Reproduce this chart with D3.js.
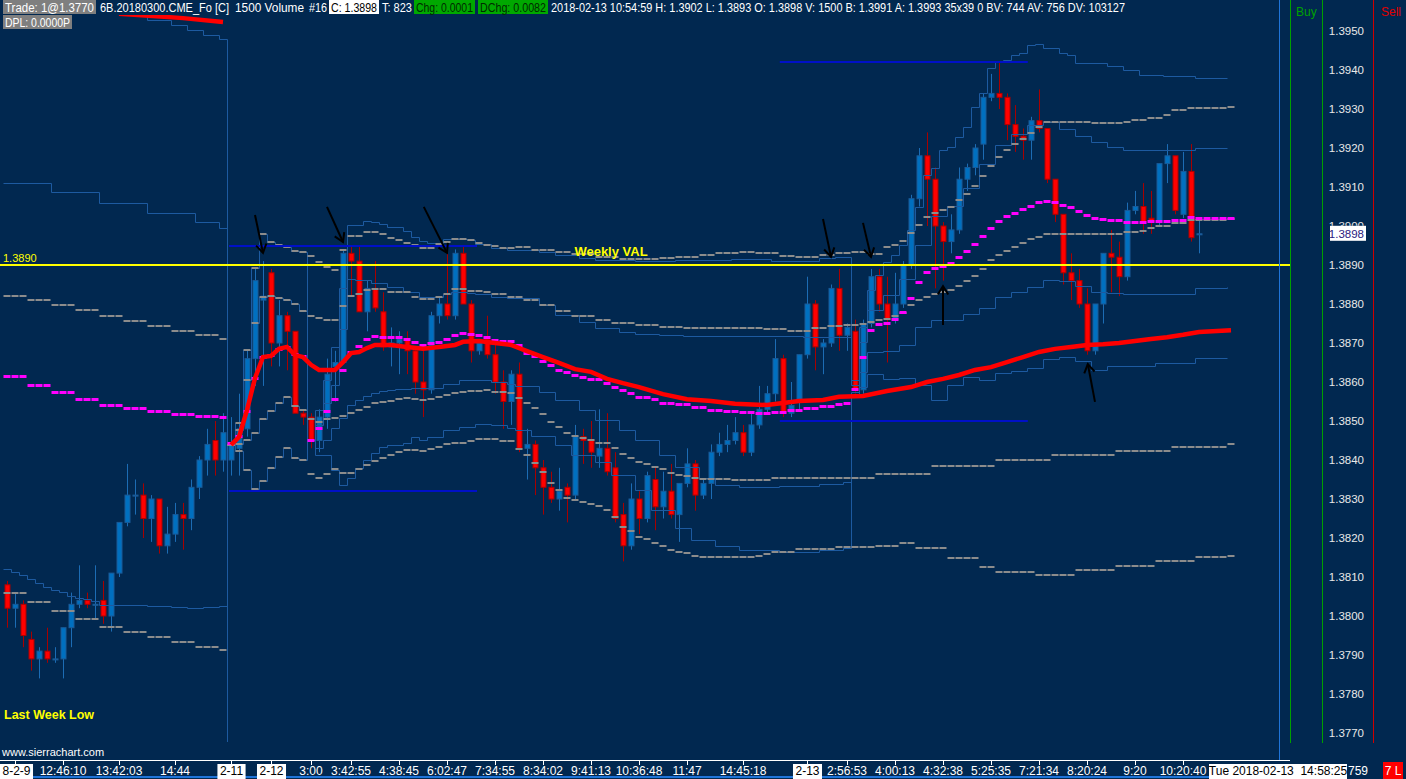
<!DOCTYPE html>
<html>
<head>
<meta charset="utf-8">
<script src="https://cdn.jsdelivr.net/npm/d3@7"></script>
<style>
  html, body { margin: 0; padding: 0; background: #012850; overflow: hidden; }
  svg { display: block; }
  text { font-family: "Liberation Sans", Arial, sans-serif; }
</style>
</head>
<body>
<div id="wrapper"></div>
<script>
// 6B 1500 volume bars, [open, high, low, close]
const ohlc = [
  [1.3808,1.3809,1.3797,1.3802],[1.3802,1.3806,1.3797,1.3803],[1.3803,1.3804,1.3792,1.3795],[1.3794,1.3796,1.3786,1.3789],
  [1.3789,1.3792,1.3784,1.3791],[1.3791,1.3797,1.3788,1.3789],[1.3789,1.3792,1.3788,1.3789],[1.3789,1.3797,1.3784,1.3797],
  [1.3797,1.3806,1.3792,1.3803],[1.3803,1.3813,1.3802,1.3804],[1.3804,1.3806,1.3802,1.3803],[1.3803,1.3813,1.3799,1.3803],
  [1.3804,1.3809,1.3798,1.3800],[1.3800,1.3811,1.3796,1.3811],[1.3811,1.3824,1.3810,1.3824],[1.3824,1.3839,1.3823,1.3831],
  [1.3831,1.3835,1.3826,1.3831],[1.3831,1.3834,1.3820,1.3825],[1.3825,1.3831,1.3819,1.3830],[1.3830,1.3830,1.3816,1.3818],
  [1.3818,1.3828,1.3816,1.3821],[1.3821,1.3829,1.3819,1.3826],[1.3826,1.3829,1.3817,1.3825],[1.3825,1.3835,1.3822,1.3833],
  [1.3833,1.3841,1.3830,1.3840],[1.3840,1.3848,1.3836,1.3844],[1.3845,1.3850,1.3836,1.3840],[1.3840,1.3852,1.3837,1.3847],
  [1.3840,1.3851,1.3836,1.3844],[1.3843,1.3857,1.3836,1.3848],[1.3848,1.3868,1.3846,1.3866],[1.3866,1.3889,1.3859,1.3886],
  [1.3881,1.3891,1.3859,1.3882],[1.3888,1.3889,1.3864,1.3870],[1.3870,1.3881,1.3864,1.3877],[1.3877,1.3878,1.3863,1.3873],
  [1.3873,1.3873,1.3852,1.3852],[1.3852,1.3853,1.3849,1.3851],[1.3851,1.3852,1.3843,1.3845],[1.3845,1.3853,1.3842,1.3851],
  [1.3851,1.3866,1.3848,1.3862],[1.3864,1.3868,1.3855,1.3865],[1.3865,1.3894,1.3865,1.3893],[1.3893,1.3895,1.3882,1.3891],
  [1.3891,1.3895,1.3878,1.3878],[1.3878,1.3886,1.3873,1.3884],[1.3884,1.3891,1.3878,1.3879],[1.3878,1.3883,1.3868,1.3869],
  [1.3869,1.3874,1.3864,1.3870],[1.3870,1.3873,1.3862,1.3871],[1.3871,1.3873,1.3862,1.3868],[1.3868,1.3869,1.3857,1.3860],
  [1.3860,1.3868,1.3851,1.3858],[1.3858,1.3878,1.3857,1.3877],[1.3877,1.3882,1.3875,1.3880],[1.3880,1.3893,1.3876,1.3877],
  [1.3877,1.3894,1.3876,1.3893],[1.3893,1.3895,1.3880,1.3880],[1.3880,1.3881,1.3865,1.3868],[1.3868,1.3871,1.3867,1.3870],
  [1.3871,1.3877,1.3866,1.3867],[1.3867,1.3871,1.3857,1.3860],[1.3860,1.3863,1.3848,1.3855],[1.3855,1.3863,1.3849,1.3862],
  [1.3862,1.3865,1.3842,1.3843],[1.3843,1.3848,1.3835,1.3844],[1.3844,1.3845,1.3831,1.3838],[1.3838,1.3840,1.3826,1.3833],
  [1.3833,1.3837,1.3829,1.3830],[1.3830,1.3838,1.3827,1.3832],[1.3833,1.3834,1.3824,1.3831],[1.3831,1.3849,1.3830,1.3846],
  [1.3846,1.3848,1.3839,1.3845],[1.3845,1.3850,1.3838,1.3842],[1.3841,1.3853,1.3838,1.3843],[1.3843,1.3852,1.3836,1.3837],
  [1.3838,1.3842,1.3824,1.3825],[1.3826,1.3829,1.3814,1.3818],[1.3818,1.3834,1.3817,1.3830],[1.3830,1.3832,1.3821,1.3825],
  [1.3825,1.3837,1.3824,1.3836],[1.3835,1.3838,1.3822,1.3828],[1.3828,1.3837,1.3825,1.3832],[1.3832,1.3839,1.3825,1.3826],
  [1.3826,1.3834,1.3819,1.3834],[1.3834,1.3843,1.3833,1.3839],[1.3839,1.3840,1.3827,1.3831],[1.3831,1.3835,1.3830,1.3834],
  [1.3834,1.3844,1.3830,1.3842],[1.3842,1.3847,1.3841,1.3844],[1.3844,1.3849,1.3842,1.3845],[1.3845,1.3851,1.3844,1.3847],
  [1.3847,1.3849,1.3841,1.3842],[1.3842,1.3852,1.3841,1.3849],[1.3849,1.3859,1.3848,1.3853],[1.3853,1.3859,1.3852,1.3857],
  [1.3857,1.3871,1.3855,1.3866],[1.3866,1.3867,1.3851,1.3852],[1.3852,1.3860,1.3851,1.3854],[1.3855,1.3867,1.3853,1.3867],
  [1.3867,1.3887,1.3866,1.3880],[1.3880,1.3881,1.3863,1.3869],[1.3869,1.3871,1.3862,1.3870],[1.3870,1.3885,1.3869,1.3884],
  [1.3884,1.3889,1.3868,1.3872],[1.3872,1.3875,1.3868,1.3874],[1.3873,1.3876,1.3857,1.3858],[1.3858,1.3876,1.3857,1.3875],
  [1.3875,1.3889,1.3874,1.3887],[1.3887,1.3889,1.3878,1.3880],[1.3880,1.3887,1.3865,1.3876],[1.3876,1.3888,1.3875,1.3880],
  [1.3880,1.3891,1.3879,1.3890],[1.3890,1.3908,1.3889,1.3907],[1.3907,1.3920,1.3905,1.3918],[1.3918,1.3924,1.3900,1.3912],
  [1.3912,1.3915,1.3884,1.3900],[1.3900,1.3901,1.3886,1.3896],[1.3896,1.3903,1.3893,1.3899],[1.3899,1.3915,1.3898,1.3912],
  [1.3912,1.3916,1.3909,1.3915],[1.3915,1.3921,1.3913,1.3920],[1.3921,1.3934,1.3917,1.3933],[1.3933,1.3939,1.3932,1.3934],
  [1.3934,1.3942,1.3930,1.3933],[1.3933,1.3934,1.3922,1.3926],[1.3926,1.3931,1.3919,1.3923],[1.3923,1.3925,1.3917,1.3922],
  [1.3922,1.3928,1.3917,1.3927],[1.3927,1.3935,1.3924,1.3925],[1.3925,1.3925,1.3911,1.3912],[1.3912,1.3912,1.3901,1.3903],
  [1.3903,1.3903,1.3885,1.3888],[1.3888,1.3893,1.3881,1.3886],[1.3886,1.3889,1.3879,1.3880],[1.3880,1.3884,1.3867,1.3868],
  [1.3868,1.3880,1.3867,1.3880],[1.3880,1.3893,1.3875,1.3893],[1.3893,1.3899,1.3883,1.3892],[1.3892,1.3896,1.3882,1.3887],
  [1.3887,1.3906,1.3886,1.3904],[1.3904,1.3909,1.3903,1.3905],[1.3905,1.3911,1.3898,1.3901],[1.3902,1.3909,1.3898,1.3901],
  [1.3901,1.3916,1.3900,1.3916],[1.3916,1.3921,1.3911,1.3918],[1.3918,1.3918,1.3903,1.3904],[1.3903,1.3919,1.3902,1.3914],
  [1.3914,1.3921,1.3896,1.3897],[1.3898,1.3902,1.3893,1.3898]
];

// study lines as [bar index, price]
const prevWeekVwap = [[14,1.39544],[22,1.39533],[27,1.39523]];
const prevWeekLower1 = [[0,1.38821],[3,1.38810],[6,1.38797],[9,1.38785],[12,1.38769],[15,1.38756],[18,1.38744],[21,1.38731],[24,1.38721],[27,1.38710]];
const prevWeekLower2 = [[0,1.38059],[3,1.38036],[6,1.38013],[9,1.37992],[12,1.37972],[15,1.37959],[18,1.37946],[21,1.37933],[24,1.37921],[27,1.37913]];

const weeklyVwap = [[28,1.38439],[29,1.38459],[30,1.38528],[31,1.38610],[32,1.38664],[33,1.38667],[34,1.38685],[35,1.38690],[36,1.38669],[37,1.38664],
  [38,1.38644],[39,1.38631],[41,1.38631],[42,1.38651],[43,1.38674],[44,1.38677],[45,1.38687],[46,1.38695],[48,1.38695],[50,1.38690],
  [52,1.38685],[54,1.38690],[56,1.38695],[57,1.38703],[59,1.38705],[61,1.38700],[63,1.38695],[65,1.38679],[67,1.38664],[69,1.38649],
  [71,1.38633],[73,1.38626],[75,1.38608],[77,1.38597],[79,1.38587],[82,1.38569],[85,1.38556],[88,1.38551],[91,1.38544],[95,1.38541],
  [97,1.38546],[99,1.38551],[102,1.38554],[104,1.38562],[107,1.38564],[110,1.38577],[113,1.38587],[115,1.38600],[117,1.38608],[119,1.38618],
  [121,1.38631],[123,1.38638],[125,1.38651],[127,1.38664],[129,1.38677],[131,1.38685],[133,1.38690],[135,1.38695],[137,1.38697],[139,1.38700],
  [141,1.38705],[143,1.38710],[145,1.38715],[147,1.38721],[149,1.38728],[153,1.38733]];

const weeklyUpper2 = [[28,1.38439],[29,1.38495],[30,1.38682],[31,1.38892],[32,1.38980],[33,1.38959],[34,1.38951],[35,1.38946],[36,1.38936],[37,1.38933],
  [38,1.38923],[39,1.38908],[40,1.38895],[41,1.38887],[42,1.38938],[43,1.38974],[44,1.38974],[45,1.38985],[46,1.38985],[47,1.38980],
  [48,1.38969],[49,1.38964],[50,1.38956],[51,1.38951],[52,1.38944],[53,1.38944],[54,1.38954],[55,1.38959],[56,1.38967],[57,1.38967],
  [58,1.38964],[59,1.38956],[60,1.38951],[61,1.38949],[62,1.38944],[64,1.38946],[66,1.38938],[69,1.38933],[71,1.38928],[74,1.38921],
  [77,1.38915],[79,1.38915],[82,1.38918],[84,1.38921],[87,1.38926],[89,1.38931],[92,1.38933],[94,1.38931],[97,1.38923],[99,1.38921],
  [102,1.38926],[104,1.38931],[106,1.38933],[108,1.38928],[109,1.38928],[110,1.38946],[111,1.38951],[112,1.38962],[113,1.38982],[114,1.39003],
  [115,1.39023],[116,1.39033],[117,1.39041],[118,1.39049],[119,1.39067],[120,1.39082],[121,1.39103],[122,1.39128],[123,1.39154],[124,1.39177],
  [125,1.39195],[126,1.39210],[127,1.39223],[128,1.39238],[129,1.39254],[130,1.39267],[136,1.39264],[139,1.39264],[140,1.39267],[141,1.39272],
  [143,1.39277],[145,1.39285],[146,1.39297],[148,1.39303],[153,1.39305]];

const weeklyUpper1 = [[28,1.38439],[29,1.38477],[30,1.38605],[31,1.38751],[32,1.38818],[33,1.38821],[34,1.38815],[35,1.38810],[36,1.38800],[37,1.38782],
  [38,1.38769],[39,1.38764],[40,1.38759],[41,1.38759],[42,1.38795],[43,1.38821],[44,1.38826],[45,1.38836],[46,1.38838],[47,1.38838],
  [48,1.38831],[50,1.38831],[51,1.38818],[52,1.38813],[54,1.38818],[55,1.38826],[56,1.38838],[57,1.38838],[58,1.38833],[60,1.38831],
  [61,1.38826],[63,1.38818],[65,1.38810],[67,1.38797],[69,1.38782],[71,1.38769],[74,1.38759],[76,1.38751],[79,1.38746],[82,1.38741],
  [85,1.38739],[92,1.38739],[95,1.38736],[98,1.38731],[101,1.38739],[103,1.38744],[105,1.38746],[107,1.38749],[108,1.38754],[109,1.38759],
  [110,1.38762],[111,1.38769],[112,1.38777],[113,1.38797],[114,1.38810],[115,1.38818],[116,1.38826],[117,1.38831],[118,1.38836],[119,1.38846],
  [120,1.38859],[121,1.38872],[122,1.38890],[123,1.38913],[124,1.38926],[125,1.38936],[126,1.38946],[127,1.38956],[128,1.38967],[129,1.38972],
  [130,1.38980],[139,1.38980],[140,1.38985],[142,1.38987],[143,1.38995],[144,1.39000],[146,1.39008],[148,1.39015],[153,1.39018]];

const weeklyLower1 = [[28,1.38439],[29,1.38441],[30,1.38451],[31,1.38469],[32,1.38505],[33,1.38526],[34,1.38546],[35,1.38562],[36,1.38538],[37,1.38528],
  [38,1.38505],[39,1.38497],[40,1.38505],[41,1.38508],[42,1.38513],[43,1.38521],[44,1.38528],[45,1.38536],[46,1.38546],[47,1.38549],
  [48,1.38551],[49,1.38556],[50,1.38559],[51,1.38556],[52,1.38554],[53,1.38556],[54,1.38562],[55,1.38567],[56,1.38572],[57,1.38574],
  [58,1.38577],[60,1.38580],[61,1.38574],[63,1.38572],[64,1.38559],[65,1.38546],[66,1.38533],[67,1.38518],[68,1.38497],[69,1.38485],
  [70,1.38469],[71,1.38462],[72,1.38456],[73,1.38451],[74,1.38444],[76,1.38431],[77,1.38415],[78,1.38405],[79,1.38395],[80,1.38390],
  [81,1.38382],[82,1.38377],[83,1.38367],[84,1.38362],[85,1.38359],[86,1.38354],[87,1.38351],[91,1.38349],[95,1.38349],[96,1.38354],
  [102,1.38354],[109,1.38364],[116,1.38385],[124,1.38400],[131,1.38413],[139,1.38423],[146,1.38433],[153,1.38441]];

const weeklyLower2 = [[28,1.38439],[29,1.38423],[30,1.38374],[31,1.38326],[32,1.38346],[33,1.38380],[34,1.38408],[35,1.38431],[36,1.38405],[37,1.38400],
  [38,1.38364],[39,1.38354],[40,1.38364],[41,1.38377],[42,1.38367],[43,1.38367],[44,1.38377],[45,1.38387],[46,1.38397],[47,1.38405],
  [48,1.38413],[49,1.38421],[50,1.38426],[51,1.38426],[52,1.38423],[53,1.38428],[54,1.38433],[55,1.38441],[56,1.38444],[57,1.38444],
  [58,1.38449],[59,1.38454],[61,1.38454],[62,1.38449],[63,1.38449],[64,1.38428],[65,1.38413],[66,1.38392],[67,1.38369],[68,1.38341],
  [69,1.38323],[70,1.38303],[71,1.38297],[72,1.38292],[73,1.38287],[74,1.38282],[75,1.38272],[76,1.38254],[77,1.38228],[78,1.38218],
  [79,1.38203],[80,1.38197],[81,1.38187],[82,1.38180],[83,1.38169],[84,1.38164],[85,1.38162],[86,1.38154],[87,1.38151],[93,1.38151],
  [94,1.38154],[95,1.38159],[96,1.38164],[99,1.38172],[104,1.38177],[109,1.38180],[112,1.38187],[114,1.38174],[118,1.38149],[122,1.38126],
  [124,1.38113],[129,1.38105],[134,1.38118],[139,1.38128],[144,1.38141],[149,1.38151],[153,1.38154]];

// daily session VWAP, resets at these bars
const sessionStarts = [28, 38, 106];
const dailyVwap = [[0,1.38615],[3,1.38592],[6,1.38574],[9,1.38556],[12,1.38541],[15,1.38533],[18,1.38526],[21,1.38518],[24,1.38513],[27,1.38510],
  [28,1.38444],[29,1.38462],[30,1.38526],[31,1.38610],[32,1.38664],[33,1.38669],[34,1.38685],[35,1.38690],[36,1.38672],[37,1.38667],
  [38,1.38451],[39,1.38482],[40,1.38526],[41,1.38556],[42,1.38631],[43,1.38677],[44,1.38692],[45,1.38710],[46,1.38718],[47,1.38715],
  [49,1.38715],[50,1.38710],[51,1.38703],[52,1.38695],[53,1.38700],[54,1.38703],[55,1.38710],[56,1.38721],[57,1.38726],[58,1.38723],
  [59,1.38721],[60,1.38715],[61,1.38708],[62,1.38705],[64,1.38695],[65,1.38674],[66,1.38667],[67,1.38654],[68,1.38644],[69,1.38631],
  [70,1.38626],[71,1.38618],[72,1.38613],[73,1.38608],[75,1.38597],[76,1.38587],[77,1.38580],[78,1.38572],[79,1.38562],[81,1.38556],
  [82,1.38546],[84,1.38544],[86,1.38536],[88,1.38528],[90,1.38526],[92,1.38523],[94,1.38521],[96,1.38523],[98,1.38528],[100,1.38533],
  [102,1.38539],[104,1.38544],[105,1.38546],
  [106,1.38582],[107,1.38664],[108,1.38733],[109,1.38749],[110,1.38751],[111,1.38762],[112,1.38780],[113,1.38815],[114,1.38856],[115,1.38882],
  [116,1.38892],[117,1.38897],[118,1.38905],[119,1.38921],[120,1.38936],[121,1.38954],[122,1.38974],[123,1.38995],[124,1.39013],[125,1.39026],
  [126,1.39033],[127,1.39044],[128,1.39051],[129,1.39062],[130,1.39064],[131,1.39062],[132,1.39054],[133,1.39049],[134,1.39038],[135,1.39028],
  [136,1.39021],[137,1.39018],[138,1.39015],[140,1.39010],[143,1.39013],[146,1.39015],[148,1.39023],[149,1.39021],[153,1.39021]];

const dailyUpper2 = [[16,1.39541],[18,1.39528],[21,1.39515],[23,1.39503],[25,1.39490],[27,1.39479],
  [28,1.38439],[29,1.38495],[30,1.38682],[31,1.38892],[32,1.38980],[33,1.38959],[34,1.38951],[35,1.38946],[36,1.38936],[37,1.38933],
  [38,1.38451],[39,1.38528],[40,1.38605],[41,1.38690],[42,1.38841],[43,1.39003],[45,1.39013],[46,1.39010],[47,1.39005],[48,1.38997],
  [50,1.38987],[51,1.38972],[52,1.38962],[53,1.38956],[55,1.38967],[58,1.38964],[59,1.38954],[61,1.38944],[63,1.38938],[67,1.38933],
  [69,1.38926],[72,1.38918],[74,1.38913],[79,1.38910],[84,1.38913],[91,1.38915],[96,1.38910],[102,1.38918],[104,1.38921],
  [106,1.38605],[107,1.38741],[108,1.38836],[109,1.38874],[110,1.38908],[111,1.38926],[112,1.38951],[113,1.38990],[114,1.39049],[115,1.39131],
  [116,1.39149],[117,1.39195],[118,1.39203],[119,1.39228],[120,1.39254],[121,1.39305],[122,1.39341],[123,1.39405],[124,1.39421],[125,1.39426],
  [126,1.39438],[127,1.39444],[128,1.39464],[129,1.39467],[130,1.39456],[132,1.39444],[133,1.39438],[134,1.39418],[138,1.39410],[140,1.39400],
  [142,1.39387],[145,1.39385],[149,1.39379],[153,1.39379]];

const dailyUpper1 = [[0,1.39110],[6,1.39087],[12,1.39059],[18,1.39033],[24,1.39010],[27,1.38995],
  [28,1.38439],[29,1.38477],[30,1.38605],[31,1.38751],[32,1.38818],[33,1.38821],[34,1.38815],[35,1.38810],[36,1.38800],[37,1.38782],
  [38,1.38451],[39,1.38490],[40,1.38546],[41,1.38592],[42,1.38736],[43,1.38864],[44,1.38862],[46,1.38854],[48,1.38844],[50,1.38831],
  [52,1.38818],[55,1.38826],[56,1.38831],[58,1.38828],[59,1.38826],[61,1.38818],[63,1.38815],[67,1.38797],[69,1.38772],[72,1.38754],
  [74,1.38739],[77,1.38728],[79,1.38723],[82,1.38721],[85,1.38718],[100,1.38715],
  [106,1.38592],[107,1.38703],[108,1.38785],[110,1.38823],[112,1.38864],[114,1.38951],[116,1.39026],[118,1.39051],[120,1.39097],[122,1.39159],
  [124,1.39208],[126,1.39236],[128,1.39259],[130,1.39267],[132,1.39249],[134,1.39231],[136,1.39215],[138,1.39203],[140,1.39195],[149,1.39200],
  [153,1.39200]];

const dailyLower1 = [[0,1.38121],[1,1.38113],[2,1.38105],[3,1.38095],[4,1.38085],[5,1.38074],[6,1.38067],[7,1.38062],[8,1.38051],[9,1.38046],
  [10,1.38044],[11,1.38038],[12,1.38028],[18,1.38026],[21,1.38023],[23,1.38021],[25,1.38023],[27,1.38026],
  [28,1.38439],[29,1.38441],[30,1.38451],[31,1.38469],[32,1.38505],[33,1.38526],[34,1.38546],[35,1.38562],[36,1.38538],[37,1.38528],
  [38,1.38451],[39,1.38431],[40,1.38451],[41,1.38482],[42,1.38508],[43,1.38541],[44,1.38554],[45,1.38564],[46,1.38572],[47,1.38577],
  [48,1.38580],[49,1.38582],[51,1.38585],[55,1.38595],[57,1.38605],[61,1.38600],[63,1.38595],[64,1.38590],[67,1.38574],[69,1.38554],
  [72,1.38528],[74,1.38503],[77,1.38477],[79,1.38451],[82,1.38413],[84,1.38382],[87,1.38354],[89,1.38336],[92,1.38331],[97,1.38333],
  [102,1.38338],[105,1.38344],
  [106,1.38574],[107,1.38626],[108,1.38677],[110,1.38679],[112,1.38695],[114,1.38741],[116,1.38759],[120,1.38774],[122,1.38790],[124,1.38818],
  [126,1.38831],[128,1.38844],[130,1.38862],[132,1.38859],[134,1.38846],[136,1.38831],[138,1.38828],[140,1.38826],[149,1.38841],[153,1.38844]];

const dailyLower2 = [[20,1.37520],[27,1.37520],
  [28,1.38439],[29,1.38423],[30,1.38374],[31,1.38326],[32,1.38346],[33,1.38380],[34,1.38408],[35,1.38431],[36,1.38405],[37,1.38400],
  [38,1.38451],[39,1.38413],[41,1.38374],[42,1.38336],[43,1.38354],[44,1.38380],[45,1.38400],[46,1.38418],[47,1.38433],[48,1.38439],
  [50,1.38444],[51,1.38459],[52,1.38451],[53,1.38459],[55,1.38477],[57,1.38485],[59,1.38492],[61,1.38490],[63,1.38482],[64,1.38477],
  [66,1.38462],[69,1.38439],[71,1.38413],[74,1.38395],[76,1.38362],[79,1.38323],[81,1.38272],[84,1.38226],[86,1.38195],[89,1.38180],
  [92,1.38169],[97,1.38164],[102,1.38169],[105,1.38174],
  [106,1.38562],[107,1.38587],[108,1.38621],[110,1.38608],[112,1.38610],[114,1.38592],[116,1.38554],[118,1.38592],[120,1.38613],[122,1.38605],
  [124,1.38623],[126,1.38628],[128,1.38636],[130,1.38659],[132,1.38664],[134,1.38654],[136,1.38631],[138,1.38641],[144,1.38649],[149,1.38662],
  [153,1.38662]];

// prior day high / low rays [from bar, to bar, price]
const dayLevels = [[27.75, 58.75, 1.3895], [27.75, 58.75, 1.3832], [96.6, 127.6, 1.3942], [96.6, 127.6, 1.3850]];
const weeklyVal = 1.3890;

// hand drawn arrows [bar from, price from, bar to, price to]
const arrows = [[31,1.39028,32,1.38931],[40,1.39049,42,1.38959],[52.1,1.39049,55,1.38931],[102,1.39018,103,1.38921],
  [107,1.39008,108,1.38921],[117,1.38746,117,1.38846],[136,1.38549,135.1,1.38646]];

const priceTicks = [1.3950,1.3940,1.3930,1.3920,1.3910,1.3900,1.3890,1.3880,1.3870,1.3860,1.3850,1.3840,1.3830,1.3820,1.3810,1.3800,1.3790,1.3780,1.3770];
const lastPrice = 1.3898;

const timeLabels = [[7,"12:46:10"],[14,"13:42:03"],[21,"14:44"],[38,"3:00"],[43,"3:42:55"],[49,"4:38:45"],[55,"6:02:47"],[61,"7:34:55"],
  [67,"8:34:02"],[73,"9:41:13"],[79,"10:36:48"],[85,"11:47"],[92,"14:45:18"],[105,"2:56:53"],[111,"4:00:13"],[117,"4:32:38"],
  [123,"5:25:35"],[129,"7:21:34"],[135,"8:20:24"],[141,"9:20"],[147,"10:20:40"]];
const dateLabels = [[1,"8-2-9"],[28,"2-11"],[33,"2-12"],[100,"2-13"]];

const headerItems = [
  { t: "Trade: 1@1.3770", x: 3, w: 93, box: "#7f7f7f", fg: "#ffffff", row: 0 },
  { t: "6B.20180300.CME_Fo [C]", x: 100, w: 129, fg: "#ffffff", row: 0 },
  { t: "1500 Volume", x: 235, w: 69, fg: "#ffffff", row: 0 },
  { t: "#16", x: 309, w: 18, fg: "#ffffff", row: 0 },
  { t: "C: 1.3898", x: 329, w: 50, box: "#ffffff", fg: "#000000", row: 0 },
  { t: "T: 823", x: 382, w: 30, fg: "#ffffff", row: 0 },
  { t: "Chg: 0.0001", x: 414, w: 61, box: "#00a800", fg: "#002a00", row: 0 },
  { t: "DChg: 0.0082", x: 478, w: 70, box: "#00a800", fg: "#002a00", row: 0 },
  { t: "2018-02-13 10:54:59 H: 1.3902 L: 1.3893 O: 1.3898 V: 1500 B: 1.3991 A: 1.3993 35x39 0 BV: 744 AV: 756 DV: 103127", x: 551, w: 574, fg: "#ffffff", row: 0 },
  { t: "DPL: 0.0000P", x: 3, w: 69, box: "#7f7f7f", fg: "#ffffff", row: 1 },
];

function drawChart() {
  const width = 1406;
  const height = 779;
  const bg = "#012850";

  const svg = d3.select("#wrapper").append("svg").attr("width", width).attr("height", height);
  svg.append("rect").attr("width", width).attr("height", height).attr("fill", bg);
  const defs = svg.append("defs");

  const x = d3.scaleLinear().domain([0, 160]).range([7, 1287]);
  const y = d3.scaleLinear().domain([1.377, 1.395]).range([733, 31]);
  const crisp = (v) => Math.round(v) + 0.5;

  defs.append("clipPath").attr("id", "plot")
    .append("rect").attr("x", 0).attr("y", 15).attr("width", 1279).attr("height", 727);
  const plot = svg.append("g").attr("clip-path", "url(#plot)");

  // candles first, studies are painted over them
  function drawCandles() {
    const up = (d) => d[3] >= d[0];
    const bar = plot.append("g").selectAll("g").data(ohlc).join("g");
    bar.append("line")
      .attr("x1", (d, i) => x(i) + 0.5).attr("x2", (d, i) => x(i) + 0.5)
      .attr("y1", (d) => y(d[1])).attr("y2", (d) => y(d[2]))
      .attr("stroke", (d) => (up(d) ? "#1c6cb4" : "#a80000"))
      .attr("stroke-width", 1);
    bar.append("rect")
      .attr("x", (d, i) => x(i) - 2)
      .attr("width", 5)
      .attr("y", (d) => y(Math.max(d[0], d[3])))
      .attr("height", (d) => Math.max(1, Math.abs(y(d[0]) - y(d[3]))))
      .attr("fill", (d) => (up(d) ? "#0070c0" : "#ff0000"))
      .attr("stroke", (d) => (up(d) ? "#1a5a98" : "#b00000"))
      .attr("stroke-width", 1);
  }
  drawCandles();

  const stepLine = d3.line().x((d) => x(d[0] - 0.5) + 0.5).y((d) => crisp(y(d[1]))).curve(d3.curveStepAfter);
  const plainLine = d3.line().x((d) => x(d[0])).y((d) => y(d[1]));

  function splitSessions(data) {
    const bounds = [0, ...sessionStarts, Infinity];
    return d3.range(bounds.length - 1)
      .map((k) => data.filter((d) => d[0] >= bounds[k] && d[0] < bounds[k + 1]))
      .filter((s) => s.length > 1);
  }

  // one flat dash per bar, each held until the next reading
  function barDashes(parent, data, color, w, dash, offset) {
    const snap = (v) => (w % 2 ? Math.round(v) + 0.5 : Math.round(v));
    const segs = data.map((d, k) => [d[0], k < data.length - 1 ? data[k + 1][0] : d[0] + 1, d[1]]);
    parent.append("g").selectAll("line").data(segs).join("line")
      .attr("x1", (s) => x(s[0] - 0.5)).attr("x2", (s) => x(s[1] - 0.5))
      .attr("y1", (s) => snap(y(s[2]))).attr("y2", (s) => snap(y(s[2])))
      .attr("stroke", color).attr("stroke-width", w)
      .attr("stroke-dasharray", dash).attr("stroke-dashoffset", offset);
  }

  function drawBands() {
    // daily deviation bands, thin blue steps
    [dailyUpper2, dailyUpper1, dailyLower1, dailyLower2].forEach((band) => {
      plot.append("path").attr("d", stepLine(band))
        .attr("fill", "none").attr("stroke", "#1d5aa0").attr("stroke-width", 1);
    });
    // weekly deviation bands, grey bar dashes
    [prevWeekLower1, prevWeekLower2, weeklyUpper2, weeklyUpper1, weeklyLower1, weeklyLower2].forEach((band) => {
      barDashes(plot, band, "#8c8c8c", 2, "7 1", 7.5);
    });
  }
  drawBands();

  function drawLevels() {
    plot.append("g").selectAll("line").data(dayLevels).join("line")
      .attr("x1", (d) => x(d[0])).attr("x2", (d) => x(d[1]))
      .attr("y1", (d) => Math.round(y(d[2]))).attr("y2", (d) => Math.round(y(d[2])))
      .attr("stroke", "#0010c8").attr("stroke-width", 2);

    svg.append("line")
      .attr("x1", 0).attr("x2", 1290)
      .attr("y1", Math.round(y(weeklyVal))).attr("y2", Math.round(y(weeklyVal)))
      .attr("stroke", "#ffff00").attr("stroke-width", 2);
  }
  drawLevels();

  function drawVwaps() {
    splitSessions(dailyVwap).forEach((seg) => barDashes(plot, seg, "#ff00ff", 3, "7 1", 7.5));
    [prevWeekVwap, weeklyVwap].forEach((seg) => {
      plot.append("path").attr("d", plainLine(seg))
        .attr("fill", "none").attr("stroke", "#ff0000").attr("stroke-width", 4.5);
    });
  }
  drawVwaps();

  function drawArrows() {
    const g = plot.append("g").attr("stroke", "#000000").attr("stroke-width", 2).attr("fill", "none");
    arrows.forEach((a) => {
      const x1 = x(a[0]), y1 = y(a[1]), x2 = x(a[2]), y2 = y(a[3]);
      const ang = Math.atan2(y2 - y1, x2 - x1);
      const h = 10;
      const p1 = [x2 - h * Math.cos(ang - 0.55), y2 - h * Math.sin(ang - 0.55)];
      const p2 = [x2 - h * Math.cos(ang + 0.55), y2 - h * Math.sin(ang + 0.55)];
      g.append("line").attr("x1", x1).attr("y1", y1).attr("x2", x2).attr("y2", y2);
      g.append("path").attr("d", `M${p1[0]},${p1[1]}L${x2},${y2}L${p2[0]},${p2[1]}`);
    });
  }
  drawArrows();

  // chart texts
  svg.append("text").text("1.3890")
    .attr("x", 3).attr("y", y(weeklyVal) - 3)
    .attr("fill", "#ffff00").attr("font-size", 11);
  svg.append("text").text("Weekly VAL")
    .attr("x", x(75.5)).attr("y", y(weeklyVal) - 9)
    .attr("text-anchor", "middle").attr("fill", "#ffff00")
    .attr("font-size", 13).attr("font-weight", "bold");
  svg.append("text").text("Last Week Low")
    .attr("x", 4).attr("y", 719)
    .attr("fill", "#ffff00").attr("font-size", 12.5).attr("font-weight", "bold");
  svg.append("text").text("www.sierrachart.com")
    .attr("x", 2).attr("y", 756)
    .attr("fill", "#ffffff").attr("font-size", 11);

  function drawRightPanel() {
    [[1279, "#1f74d8", 760], [1290, "#00a000", 743], [1322, "#00a000", 743], [1373, "#d00000", 743]].forEach((v) => {
      svg.append("line").attr("x1", v[0] + 0.5).attr("x2", v[0] + 0.5)
        .attr("y1", 0).attr("y2", v[2]).attr("stroke", v[1]).attr("stroke-width", 1);
    });
    svg.append("text").text("Buy").attr("x", 1296).attr("y", 16)
      .attr("fill", "#00a000").attr("font-size", 12);
    svg.append("text").text("Sell").attr("x", 1381).attr("y", 16)
      .attr("fill", "#e00000").attr("font-size", 12);

    // the 1.3900 label sits under the last price box, only its top edge shows
    defs.append("clipPath").attr("id", "tickcut")
      .append("rect").attr("x", 1320).attr("y", 0).attr("width", 60).attr("height", y(lastPrice) - 8);
    svg.append("g").selectAll("text").data(priceTicks).join("text")
      .text((d) => d3.format(".4f")(d))
      .attr("x", 1364).attr("y", (d) => y(d) + 4)
      .attr("text-anchor", "end").attr("fill", "#e8e8e8").attr("font-size", 11.5)
      .attr("clip-path", (d) => (Math.abs(d - lastPrice) < 0.0005 ? "url(#tickcut)" : null));

    svg.append("rect").attr("x", 1330).attr("y", y(lastPrice) - 8)
      .attr("width", 36).attr("height", 15).attr("fill", "#ffffff");
    svg.append("text").text(d3.format(".4f")(lastPrice))
      .attr("x", 1364).attr("y", y(lastPrice) + 4)
      .attr("text-anchor", "end").attr("fill", "#2a2080").attr("font-size", 11.5);
  }
  drawRightPanel();

  function drawTimeAxis() {
    svg.append("line").attr("x1", 0).attr("x2", 1290).attr("y1", 760.5).attr("y2", 760.5)
      .attr("stroke", "#ffffff").attr("stroke-width", 1);
    svg.append("line").attr("x1", 0).attr("x2", 1290).attr("y1", 777).attr("y2", 777)
      .attr("stroke", "#1f74d8").attr("stroke-width", 2);

    const all = timeLabels.concat(dateLabels);
    svg.append("g").selectAll("line").data(all).join("line")
      .attr("x1", (d) => x(d[0]) + 0.5).attr("x2", (d) => x(d[0]) + 0.5)
      .attr("y1", 760).attr("y2", 765).attr("stroke", "#ffffff");

    svg.append("g").selectAll("text").data(timeLabels).join("text")
      .text((d) => d[1])
      .attr("x", (d) => x(d[0])).attr("y", 775)
      .attr("text-anchor", "middle").attr("fill", "#ffffff").attr("font-size", 12);

    const dates = svg.append("g").selectAll("g").data(dateLabels).join("g");
    dates.append("rect").attr("y", 764).attr("height", 15).attr("fill", "#ffffff");
    dates.append("text").text((d) => d[1])
      .attr("y", 775).attr("text-anchor", "middle").attr("fill", "#000000").attr("font-size", 12)
      .each(function (d) {
        const w = this.getComputedTextLength() + 5;
        const cx = Math.max(w / 2, x(d[0]) + 0.5);
        d3.select(this).attr("x", cx);
        d3.select(this.parentNode).select("rect").attr("x", cx - w / 2).attr("width", w);
      });

    svg.append("rect").attr("x", 1209).attr("y", 764).attr("width", 138).attr("height", 15).attr("fill", "#ffffff");
    svg.append("text").text("Tue 2018-02-13  14:58:25")
      .attr("x", 1278).attr("y", 775).attr("text-anchor", "middle")
      .attr("fill", "#000000").attr("font-size", 12).style("white-space", "pre");
    svg.append("text").text("759").attr("x", 1348).attr("y", 775)
      .attr("fill", "#ffffff").attr("font-size", 12);
    svg.append("rect").attr("x", 1383).attr("y", 762).attr("width", 20).attr("height", 17).attr("fill", "#ff0000");
    svg.append("text").text("7 L").attr("x", 1393).attr("y", 775).attr("text-anchor", "middle")
      .attr("fill", "#ffffff").attr("font-size", 12);
  }
  drawTimeAxis();

  function drawHeader() {
    const item = svg.append("g").selectAll("g").data(headerItems).join("g");
    item.filter((d) => d.box).append("rect")
      .attr("x", (d) => d.x).attr("y", (d) => d.row * 15)
      .attr("width", (d) => d.w).attr("height", 14).attr("fill", (d) => d.box);
    item.append("text").text((d) => d.t)
      .attr("x", (d) => d.x + (d.box ? 2 : 0))
      .attr("y", (d) => d.row * 15 + 11.5)
      .attr("textLength", (d) => d.w - (d.box ? 4 : 0))
      .attr("lengthAdjust", "spacingAndGlyphs")
      .attr("fill", (d) => d.fg).attr("font-size", 12);
  }
  drawHeader();
}

drawChart();
</script>
</body>
</html>
